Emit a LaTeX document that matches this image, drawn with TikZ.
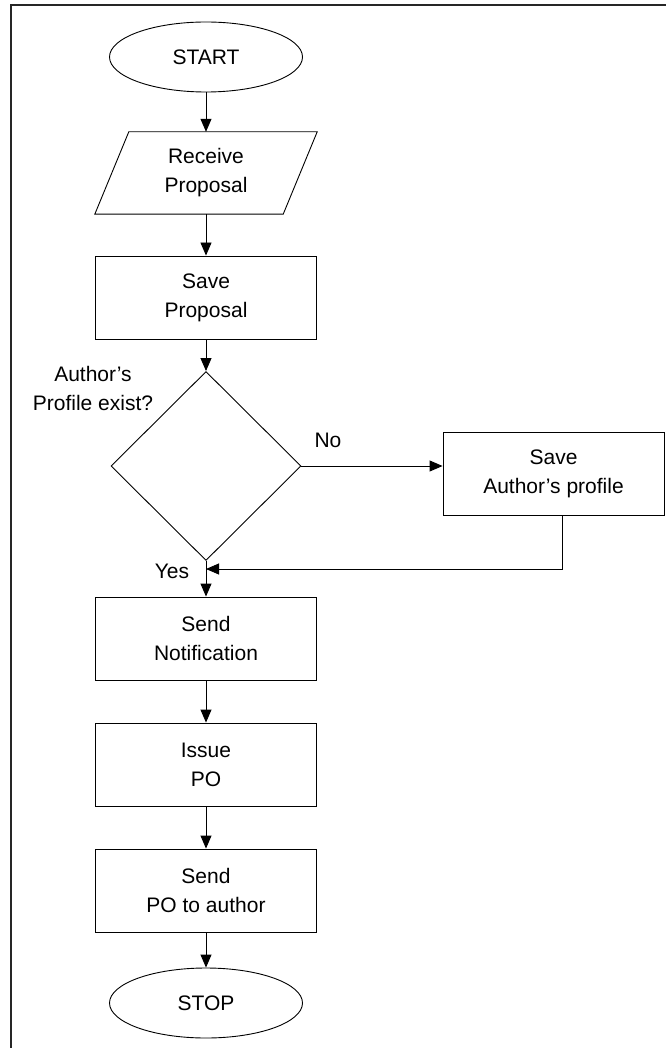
\documentclass[tikz,border=0pt]{standalone}
\usepackage{fontspec}
\setmainfont{Liberation Sans}
\usetikzlibrary{shapes.geometric,arrows.meta}

\begin{document}
\begin{tikzpicture}[x=1pt,y=-1pt,
  font=\fontsize{21}{29}\selectfont,
  every node/.style={inner sep=0pt, align=center},
  term/.style={ellipse, draw, line width=0.9pt, minimum width=193pt, minimum height=70pt},
  procbox/.style={rectangle, draw, line width=0.9pt, minimum width=221pt, minimum height=83pt},
  iobox/.style={rectangle, minimum width=222pt, minimum height=82pt},
  decision/.style={diamond, draw, line width=0.9pt, minimum width=190pt, minimum height=189pt},
  flow/.style={line width=0.9pt, -{Triangle[length=13pt,width=11pt]}},
  plain/.style={line width=0.9pt}
]
\useasboundingbox (0,0) rectangle (666,1048);

% page frame (top and left edges only)
\draw[line width=2pt, black!85] (11,1048) -- (11,5) -- (666,5);

% main column
\node[term] (start) at (206,57) {START};
\node[iobox] (recv) at (206,173) {Receive\\Proposal};
\draw[plain] (recv.south west) -- ([xshift=-34pt]recv.south east) -- (recv.north east)
  -- ([xshift=34pt]recv.north west) -- cycle;
\node[procbox] (saveprop) at (206,297.5) {Save\\Proposal};
\node[decision] (dec) at (206,466) {};
\node (qlabel) at (93,388) {Author’s\\Profile exist?};
\node[procbox] (saveauth) at (553.5,473.5) {Save\\Author’s profile};
\node[procbox] (notif) at (206,638.5) {Send\\Notification};
\node[procbox] (issue) at (206,764.5) {Issue\\PO};
\node[procbox] (sendpo) at (206,890.5) {Send\\PO to author};
\node[term] (stop) at (206,1003) {STOP};

% branch labels
\node (nolabel) at (328,440) {No};
\node (yeslabel) at (172,571) {Yes};

% connectors
\draw[flow] (start) -- (recv);
\draw[flow] (recv) -- (saveprop);
\draw[flow] (saveprop) -- (dec);
\draw[flow] (dec.east) -- (dec.east -| saveauth.west);
\coordinate (turn) at (562,569);
\draw[flow] (saveauth.south -| turn) -- (turn) -- (turn -| dec.south);
\draw[flow] (dec.south) -- (notif.north);
\draw[flow] (notif) -- (issue);
\draw[flow] (issue) -- (sendpo);
\draw[flow] (sendpo) -- (stop);
\end{tikzpicture}
\end{document}
